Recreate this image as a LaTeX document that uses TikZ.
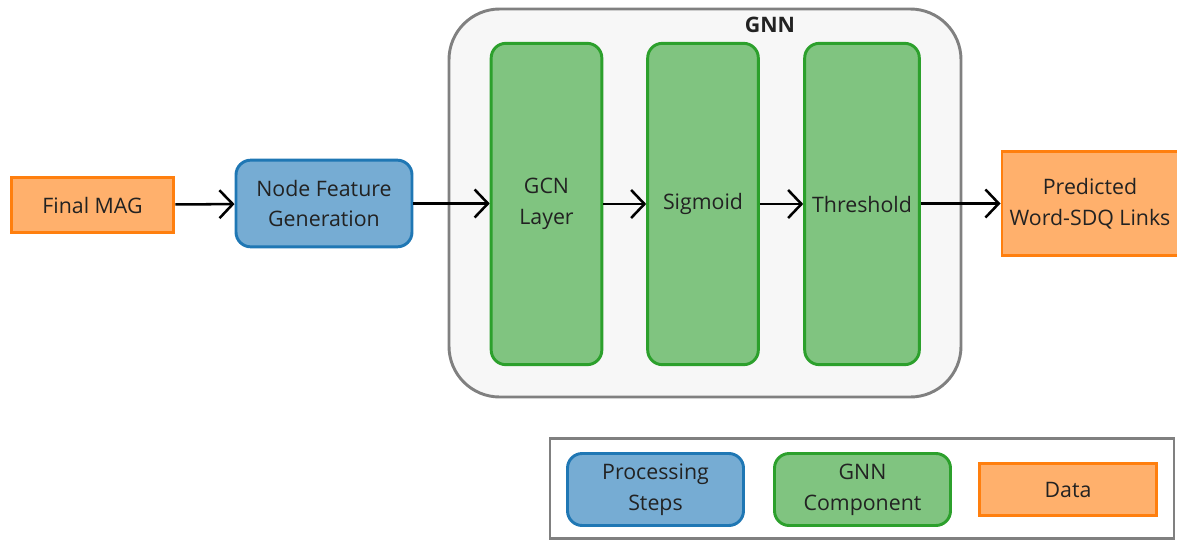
\documentclass[tikz,border=0pt]{standalone}
\usepackage{fontspec}
\setmainfont{Open Sans}
\usetikzlibrary{arrows.meta}
\definecolor{dataorange}{HTML}{FFB06C}
\definecolor{dataedge}{HTML}{FF7F0E}
\definecolor{stepblue}{HTML}{76ACD3}
\definecolor{stepedge}{HTML}{1F77B4}
\definecolor{gnngreen}{HTML}{80C480}
\definecolor{gnnedge}{HTML}{2CA02C}
\definecolor{groupfill}{HTML}{F7F7F7}
\definecolor{groupedge}{HTML}{808080}
\definecolor{txt}{HTML}{222222}
\tikzset{
  every node/.style={font=\fontsize{16}{23}\selectfont, text=txt, align=center, inner sep=0pt},
  data/.style={draw=dataedge, fill=dataorange, line width=2.2pt},
  procstep/.style={draw=stepedge, fill=stepblue, line width=2.2pt, rounded corners=11pt},
  gnnpart/.style={draw=gnnedge, fill=gnngreen, line width=2.2pt, rounded corners=11pt,
    minimum width=83pt, minimum height=241pt},
  flow/.style={-{Straight Barb[length=10pt,width=21pt,line width=1.9pt]}, line width=1.9pt, black}
}
\begin{document}
\begin{tikzpicture}[x=0.75pt, y=-0.75pt]
      \useasboundingbox (0,0) rectangle (1177,542);
      % GNN container
      \node[draw=groupedge, fill=groupfill, line width=2.2pt, rounded corners=38pt,
        minimum width=384pt, minimum height=291pt] (gnn) at (705,203) {};
      \node[font=\fontsize{16}{23}\selectfont\bfseries] (gnnlabel) at (770,25) {GNN};
      % Define nodes
      \node[data, minimum width=122pt, minimum height=41pt] (mag) at (92.5,205) {Final MAG};
      \node[procstep, minimum width=132pt, minimum height=65pt] (feat) at (324,203.5) {Node Feature\\Generation};
      \node[gnnpart] (gcn) at (546.5,204) {GCN\\Layer};
      \node[gnnpart] (sig) at (703,204) {Sigmoid};
      \node[gnnpart, minimum width=86pt] (thr) at (862,204) {Threshold};
      \node[data, minimum width=132pt, minimum height=78pt] (links) at (1090,203.5) {Predicted\\Word-SDQ Links};
      % Connectors
      \draw[flow] (mag) -- (feat);
      \draw[flow] (feat.east) -- (gcn.west |- feat.east);
      \draw[flow] (gcn.east |- sig.west) -- (sig.west);
      \draw[flow] (sig) -- (thr);
      \draw[flow] (thr.east |- links.west) -- (links.west);
      % Legend
      \node[draw=groupedge, fill=white, line width=2.2pt, minimum width=468pt, minimum height=75pt] (legend) at (862,488.5) {};
      \node[procstep, minimum width=132pt, minimum height=54pt] (legstep) at (655.5,489.5) {Processing\\Steps};
      \node[gnnpart, minimum width=132pt, minimum height=54pt] (leggnn) at (862.5,489.5) {GNN\\Component};
      \node[data, minimum width=133pt, minimum height=39pt] (legdata) at (1068,489.5) {Data};
\end{tikzpicture}
\end{document}
